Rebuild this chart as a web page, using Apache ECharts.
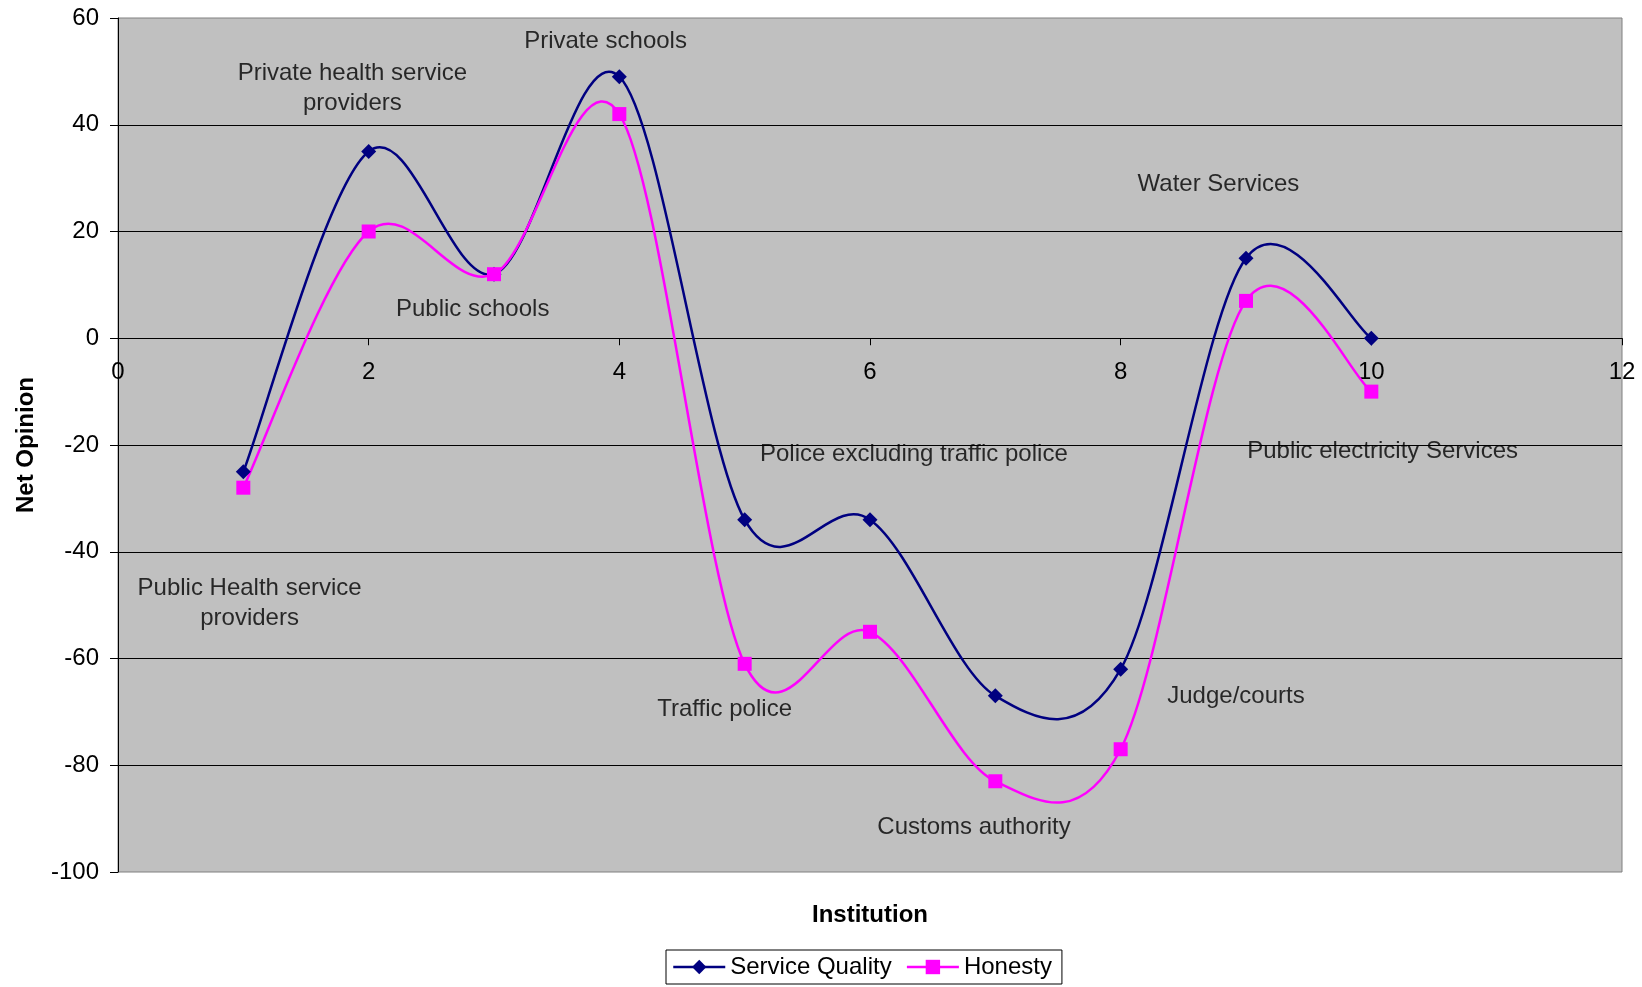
<!DOCTYPE html>
<html>
<head>
<meta charset="utf-8">
<script src="https://cdn.jsdelivr.net/npm/echarts@6/dist/echarts.min.js"></script>
<style>
  html, body { margin: 0; padding: 0; background: #fff; }
  #chart { width: 1642px; height: 987px; }
</style>
</head>
<body>
<div id="chart"></div>
<script>
// Institution index (x) and net opinion scores
const institutionIndex = [1, 2, 3, 4, 5, 6, 7, 8, 9, 10];
const serviceQuality = [-25, 35, 12, 49, -34, -34, -67, -62, 15, 0];
const honesty = [-28, 20, 12, 42, -61, -55, -83, -77, 7, -10];

// Text boxes placed in data coordinates [x, y, text]
const annotations = [
  [3.89, 55.7, 'Private schools'],
  [1.87, 46.8, 'Private health service\nproviders'],
  [8.78, 28.8, 'Water Services'],
  [2.83, 5.5, 'Public schools'],
  [6.35, -21.8, 'Police excluding traffic police'],
  [10.09, -21.2, 'Public electricity Services'],
  [1.05, -49.6, 'Public Health service\nproviders'],
  [4.84, -69.6, 'Traffic police'],
  [8.92, -67.1, 'Judge/courts'],
  [6.83, -91.6, 'Customs authority']
];

const FONT = '"Liberation Sans", Arial, sans-serif';
const FS = 24;
const NAVY = '#000080';
const MAGENTA = '#ff00ff';

const GRID = { left: 118, right: 20, top: 18, bottom: 115 };
const Y_MIN = -100, Y_MAX = 60;

const chart = echarts.init(document.getElementById('chart'), null, { renderer: 'canvas' });

const pair = (xs, ys) => xs.map((x, i) => [x, ys[i]]);

// Distance from the plot's bottom edge up to the y = 0 line, so the
// x axis (line, ticks, labels) sits on zero.
const plotHeight = 987 - GRID.top - GRID.bottom;
const zeroOffset = plotHeight * (0 - Y_MIN) / (Y_MAX - Y_MIN);

// Smoothed curve through the data (Catmull-Rom style cubic Bezier segments),
// computed in pixel space from the library's own coordinate conversion.
function curveSeries(name, ys, color) {
  const pts = pair(institutionIndex, ys);
  return {
    name: name,
    type: 'custom',
    data: pts,
    silent: true,
    z: 2,
    encode: { x: 0, y: 1 },
    renderItem: function (params, api) {
      if (params.dataIndex !== 0) return null;
      const p = pts.map(d => api.coord(d));
      const n = p.length;
      let d = 'M' + p[0][0] + ',' + p[0][1];
      for (let i = 0; i < n - 1; i++) {
        const p0 = p[Math.max(i - 1, 0)];
        const p1 = p[i];
        const p2 = p[i + 1];
        const p3 = p[Math.min(i + 2, n - 1)];
        const c1x = p1[0] + (p2[0] - p0[0]) / 6;
        const c1y = p1[1] + (p2[1] - p0[1]) / 6;
        const c2x = p2[0] - (p3[0] - p1[0]) / 6;
        const c2y = p2[1] - (p3[1] - p1[1]) / 6;
        d += ' C' + c1x + ',' + c1y + ' ' + c2x + ',' + c2y + ' ' + p2[0] + ',' + p2[1];
      }
      return {
        type: 'path',
        shape: { pathData: d },
        style: { fill: 'none', stroke: color, lineWidth: 2.5 }
      };
    }
  };
}

chart.setOption({
  animation: false,
  textStyle: { fontFamily: FONT },
  grid: {
    left: GRID.left, right: GRID.right, top: GRID.top, bottom: GRID.bottom,
    outerBoundsMode: 'none',
    containLabel: false,
    show: true,
    backgroundColor: '#c0c0c0',
    borderColor: '#808080',
    borderWidth: 1
  },
  xAxis: {
    type: 'value',
    position: 'bottom',
    offset: -zeroOffset,
    min: 0, max: 12, interval: 2,
    name: 'Institution',
    nameLocation: 'middle',
    nameGap: 565,
    nameTextStyle: { fontFamily: FONT, fontSize: FS, fontWeight: 'bold', color: '#000' },
    axisLine: { show: true, onZero: false, lineStyle: { color: '#000', width: 1 } },
    axisTick: { show: true, inside: false, length: 7, lineStyle: { color: '#000' } },
    axisLabel: { fontFamily: FONT, fontSize: FS, color: '#000', margin: 22 },
    splitLine: { show: false }
  },
  yAxis: {
    type: 'value',
    min: Y_MIN, max: Y_MAX, interval: 20,
    name: 'Net Opinion',
    nameLocation: 'middle',
    nameGap: 80,
    nameRotate: 90,
    nameTextStyle: { fontFamily: FONT, fontSize: FS, fontWeight: 'bold', color: '#000' },
    axisLine: { show: true, onZero: false, lineStyle: { color: '#000', width: 1 } },
    axisTick: { show: true, inside: false, length: 8, lineStyle: { color: '#000' } },
    axisLabel: { fontFamily: FONT, fontSize: FS, color: '#000', margin: 19 },
    splitLine: { show: true, showMinLine: false, showMaxLine: false, lineStyle: { color: '#000', width: 1 } }
  },
  legend: {
    data: [
      { name: 'Service Quality', lineStyle: { opacity: 1, width: 2.5, color: NAVY } },
      { name: 'Honesty', lineStyle: { opacity: 1, width: 2.5, color: MAGENTA } }
    ],
    left: 666,
    top: 950,
    orient: 'horizontal',
    itemWidth: 52,
    itemHeight: 18,
    itemGap: 14,
    padding: [4, 10, 4, 6],
    borderColor: '#000',
    borderWidth: 1,
    borderRadius: 0,
    backgroundColor: '#fff',
    textStyle: { fontFamily: FONT, fontSize: FS, color: '#000', lineHeight: 26 }
  },
  series: [
    curveSeries('Service Quality curve', serviceQuality, NAVY),
    curveSeries('Honesty curve', honesty, MAGENTA),
    {
      name: 'Service Quality',
      type: 'line',
      data: pair(institutionIndex, serviceQuality),
      symbol: 'diamond',
      symbolSize: 15,
      itemStyle: { color: NAVY },
      lineStyle: { color: NAVY, width: 2.5, opacity: 0 },
      z: 3
    },
    {
      name: 'Honesty',
      type: 'line',
      data: pair(institutionIndex, honesty),
      symbol: 'rect',
      symbolSize: 14,
      itemStyle: { color: MAGENTA },
      lineStyle: { color: MAGENTA, width: 2.5, opacity: 0 },
      z: 4
    },
    {
      name: 'labels',
      type: 'scatter',
      data: annotations,
      symbolSize: 0,
      silent: true,
      z: 5,
      label: {
        show: true,
        position: 'inside',
        formatter: p => p.data[2],
        fontFamily: FONT,
        fontSize: FS,
        lineHeight: 30,
        color: '#000',
        textBorderWidth: 0,
        textBorderColor: 'transparent',
        align: 'center',
        verticalAlign: 'middle'
      }
    }
  ]
});
</script>
</body>
</html>
